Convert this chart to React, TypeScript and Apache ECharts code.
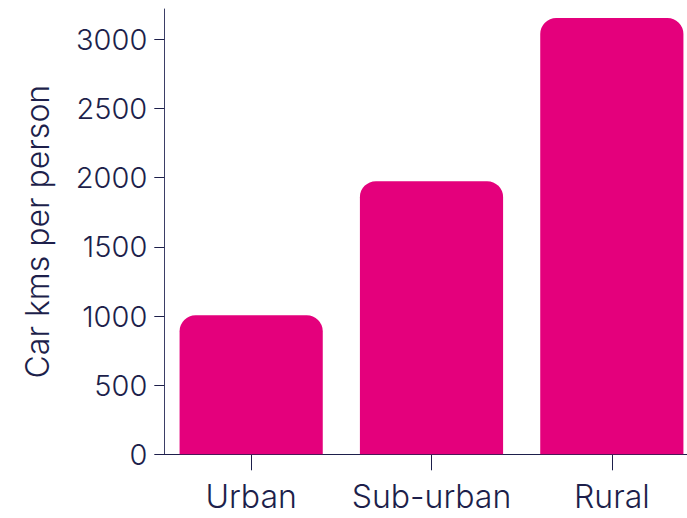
import React, { useEffect, useRef } from "react";
import * as echarts from "echarts";

const categories = ["Urban", "Sub-urban", "Rural"];
const values = [1005, 1975, 3155];
const yTicks = [0, 500, 1000, 1500, 2000, 2500, 3000];
const yAxisName = "Car kms per person";

const NAVY = "#1d1f4b";
const FONT = "Inter, 'Noto Sans', sans-serif";

export default function App() {
  const ref = useRef<HTMLDivElement>(null);
  useEffect(() => {
    if (!ref.current) return;
    const chart = echarts.init(ref.current, undefined, { renderer: "svg" });
    chart.setOption({
      animation: false,
      grid: { left: 161, top: 9, width: 541, height: 445.3, containLabel: false, outerBoundsMode: "none" },
      xAxis: {
        type: "category",
        data: categories,
        axisLine: { show: true, lineStyle: { color: NAVY, width: 1 } },
        axisTick: { show: true, alignWithLabel: true, length: 16, lineStyle: { color: NAVY, width: 1 } },
        axisLabel: { interval: 0, margin: 26, color: NAVY, fontSize: 32, fontFamily: FONT, fontWeight: 300 },
      },
      yAxis: {
        type: "value",
        min: 0,
        max: 3220,
        interval: 500,
        offset: -3.3,
        name: yAxisName,
        nameLocation: "middle",
        nameGap: 111,
        nameTextStyle: { color: NAVY, fontSize: 32, fontFamily: FONT, fontWeight: 300 },
        splitLine: { show: false },
        axisLine: { show: true, lineStyle: { color: "#3b3e66", width: 1 } },
        axisTick: { show: true, length: 10, customValues: yTicks, lineStyle: { color: NAVY, width: 1 } },
        axisLabel: {
          margin: 17,
          color: NAVY,
          fontSize: 29,
          fontFamily: FONT,
          fontWeight: 300,
          customValues: yTicks,
          formatter: (v: number) => String(v),
        },
      },
      series: [
        {
          type: "bar",
          data: values,
          barCategoryGap: "20.6%",
          itemStyle: { color: "#e4007c", borderRadius: [16, 16, 0, 0] },
        },
      ],
    });
    return () => chart.dispose();
  }, []);
  return (
    <div
      ref={ref}
      style={{ position: "fixed", left: 0, top: 0, width: 687, height: 518, background: "#fff" }}
    />
  );
}
